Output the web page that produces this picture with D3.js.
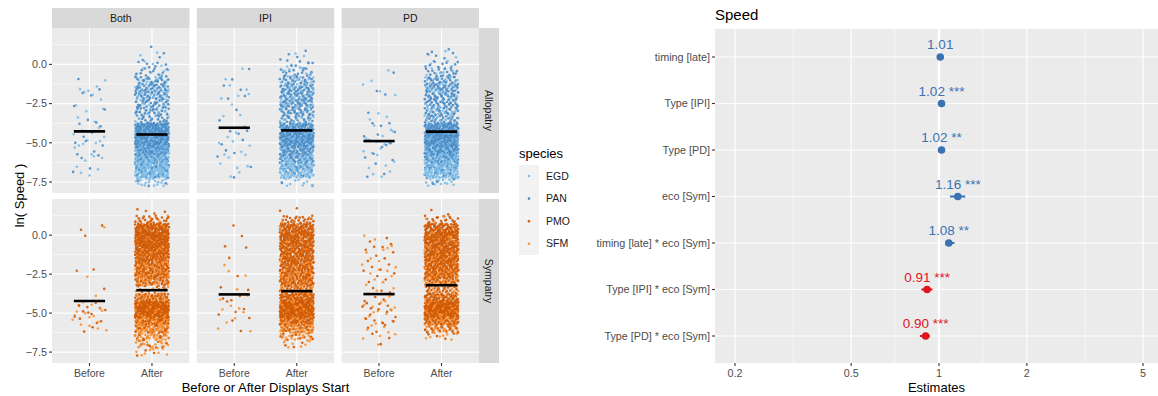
<!DOCTYPE html>
<html><head><meta charset="utf-8">
<script src="https://cdn.jsdelivr.net/npm/d3@7"></script>
<style>
body{margin:0;background:#fff;}
text{font-family:"Liberation Sans",Arial,Helvetica,sans-serif;}
</style>
</head><body>
<svg id="chart" width="1158" height="396"></svg>
<script>
// ---------- jitter plot data: ln(speed) counts per 0.5-wide band ----------
const bins = [-7.5,-7,-6.5,-6,-5.5,-5,-4.5,-4,-3.5,-3,-2.5,-2,-1.5,-1,-0.5,0,0.5,1,1.5];
const types = ["Both","IPI","PD"];
const ecos = ["Allopatry","Sympatry"];
const timings = ["Before","After"];
const speciesNames = ["EGD","PAN","PMO","SFM"];
const speciesColors = ["#7dbde8","#4a8bc5","#cf5a06","#fb9235"];

// Allopatry (EGD / PAN)
const alloBothBeforeEGD = [0,2,2,3,2,5,3,2,2,2,1,3,3,1,0,0,0,0,0];
const alloBothBeforePAN = [0,1,1,2,2,3,2,2,2,1,1,2,1,1,0,0,0,0,0];
const alloBothAfterEGD  = [20,70,75,60,45,35,30,30,14,17,17,20,20,14,6,3,2,0,0];
const alloBothAfterPAN  = [3,15,25,40,70,100,110,90,20,24,28,32,32,22,12,6,3,1,0];
const alloIPIBeforeEGD  = [0,2,3,2,2,3,2,1,1,1,1,3,2,1,1,0,0,0,0];
const alloIPIBeforePAN  = [0,1,1,1,2,2,2,1,1,1,0,2,2,1,1,0,0,0,0];
const alloIPIAfterEGD   = [10,50,55,45,35,30,25,20,14,16,18,21,21,14,7,4,2,0,0];
const alloIPIAfterPAN   = [2,12,20,35,55,80,90,70,24,28,32,35,32,25,14,7,3,1,0];
const alloPDBeforeEGD   = [0,3,2,2,3,4,3,2,2,1,0,1,2,1,1,0,0,0,0];
const alloPDBeforePAN   = [0,2,1,2,2,3,3,2,1,1,0,1,1,0,1,0,0,0,0];
const alloPDAfterEGD    = [15,60,60,50,35,30,25,22,16,18,20,21,21,16,9,5,2,1,0];
const alloPDAfterPAN    = [3,15,25,40,65,90,100,80,25,28,32,35,32,27,16,9,4,2,0];

// Sympatry (PMO / SFM)
const sympBothBeforePMO = [0,0,0,2,3,5,4,0,1,0,1,1,0,0,0,1,2,0,0];
const sympBothBeforeSFM = [0,0,0,3,4,5,4,1,0,0,1,0,0,0,0,0,1,0,0];
const sympBothAfterPMO  = [3,8,15,30,70,130,130,50,10,40,60,70,80,90,100,110,90,25,4];
const sympBothAfterSFM  = [8,18,35,60,60,40,30,25,5,25,35,35,25,20,20,15,10,3,0];
const sympIPIBeforePMO  = [0,0,0,1,2,2,2,3,2,0,1,0,1,1,1,1,1,0,0];
const sympIPIBeforeSFM  = [0,0,0,2,2,2,2,2,1,0,2,1,0,0,0,0,0,0,0];
const sympIPIAfterPMO   = [0,3,10,25,60,120,130,80,30,60,60,70,75,80,85,85,70,25,2];
const sympIPIAfterSFM   = [0,6,20,40,45,35,30,25,25,30,35,25,20,18,15,12,8,3,0];
const sympPDBeforePMO   = [0,1,2,3,4,5,5,4,3,2,3,3,3,3,3,1,0,0,0];
const sympPDBeforeSFM   = [0,1,3,4,4,5,4,3,2,3,3,3,2,3,2,1,0,0,0];
const sympPDAfterPMO    = [0,0,4,20,60,120,130,60,25,45,70,75,80,85,90,90,70,20,2];
const sympPDAfterSFM    = [0,0,8,30,40,35,30,20,15,25,35,30,25,20,18,15,8,3,0];

// group means (crossbars), by type Both / IPI / PD
const meanAlloBefore = [-4.27,-4.04,-4.89];
const meanAlloAfter  = [-4.47,-4.21,-4.29];
const meanSympBefore = [-4.22,-3.80,-3.78];
const meanSympAfter  = [-3.53,-3.59,-3.21];

const yTicks = [0,-2.5,-5,-7.5];

// ---------- forest plot data ----------
const terms = ["timing [late]","Type [IPI]","Type [PD]","eco [Sym]","timing [late] * eco [Sym]","Type [IPI] * eco [Sym]","Type [PD] * eco [Sym]"];
const estimates = [1.01,1.02,1.02,1.16,1.08,0.91,0.90];
const ciLow  = [1.00,1.01,1.01,1.09,1.05,0.87,0.86];
const ciHigh = [1.02,1.03,1.03,1.23,1.13,0.95,0.93];
const stars  = ["","***","**","***","**","***","***"];
const xTicksForest = [0.2,0.5,1,2,5];

// ======================================================================
const svg = d3.select("#chart");
const grey30 = "#4d4d4d", panelBg = "#ebebeb", stripBg = "#d9d9d9";

// ---------- left: faceted jitter plot ----------
const facetLeft = 52, facetRight = 479, facetGap = 7.3;
const panelW = (facetRight - facetLeft - 2*facetGap) / 3;
const rows = [{top:28,bottom:193},{top:199,bottom:363}];
const yDomain = [-8.2, 2.32];

const countTable = {
  Allopatry:{Both:{Before:[["EGD",alloBothBeforeEGD],["PAN",alloBothBeforePAN]],After:[["EGD",alloBothAfterEGD],["PAN",alloBothAfterPAN]]},
             IPI:{Before:[["EGD",alloIPIBeforeEGD],["PAN",alloIPIBeforePAN]],After:[["EGD",alloIPIAfterEGD],["PAN",alloIPIAfterPAN]]},
             PD:{Before:[["EGD",alloPDBeforeEGD],["PAN",alloPDBeforePAN]],After:[["EGD",alloPDAfterEGD],["PAN",alloPDAfterPAN]]}},
  Sympatry:{Both:{Before:[["PMO",sympBothBeforePMO],["SFM",sympBothBeforeSFM]],After:[["PMO",sympBothAfterPMO],["SFM",sympBothAfterSFM]]},
            IPI:{Before:[["PMO",sympIPIBeforePMO],["SFM",sympIPIBeforeSFM]],After:[["PMO",sympIPIAfterPMO],["SFM",sympIPIAfterSFM]]},
            PD:{Before:[["PMO",sympPDBeforePMO],["SFM",sympPDBeforeSFM]],After:[["PMO",sympPDAfterPMO],["SFM",sympPDAfterSFM]]}}
};
const meanTable = {Allopatry:{Before:meanAlloBefore,After:meanAlloAfter},
                   Sympatry:{Before:meanSympBefore,After:meanSympAfter}};
const colorOf = d3.scaleOrdinal().domain(speciesNames).range(speciesColors);

// low-discrepancy sequence used to spread points inside each band (jitter)
function halton(i, b){ let f = 1, r = 0; while(i > 0){ f /= b; r += f*(i % b); i = Math.floor(i/b); } return r; }
function cloud(groups, seed){
  const pts = []; let k = seed;
  groups.forEach(([sp, counts]) => {
    counts.forEach((n, bi) => {
      for(let j = 0; j < n; j++){
        k++;
        pts.push({sp, v: bins[bi] + (halton(k,3) - 0.5)*0.5, jx: (halton(k,2) - 0.5)*2*0.27, ord: halton(k,7)});
      }
    });
  });
  pts.sort((a,b) => a.ord - b.ord);
  return pts;
}

ecos.forEach((eco, ri) => {
  const row = rows[ri];
  const y = d3.scaleLinear().domain(yDomain).range([row.bottom, row.top]);
  types.forEach((type, ci) => {
    const x0 = facetLeft + ci*(panelW + facetGap);
    const x = d3.scaleLinear().domain([0.4, 2.6]).range([x0, x0 + panelW]);
    const g = svg.append("g");
    g.append("rect").attr("x", x0).attr("y", row.top).attr("width", panelW).attr("height", row.bottom - row.top).attr("fill", panelBg);
    // minor grid
    const minors = [1.25,-1.25,-3.75,-6.25];
    g.selectAll(".mn").data(minors).join("line")
      .attr("x1", x0).attr("x2", x0 + panelW).attr("y1", d => y(d)).attr("y2", d => y(d))
      .attr("stroke", "#fff").attr("stroke-width", 0.55);
    g.selectAll(".mj").data(yTicks).join("line")
      .attr("x1", x0).attr("x2", x0 + panelW).attr("y1", d => y(d)).attr("y2", d => y(d))
      .attr("stroke", "#fff").attr("stroke-width", 1.1);
    g.selectAll(".vx").data([1,2]).join("line")
      .attr("x1", d => x(d)).attr("x2", d => x(d)).attr("y1", row.top).attr("y2", row.bottom)
      .attr("stroke", "#fff").attr("stroke-width", 1.1);
    // points
    timings.forEach((tm, ti) => {
      const pts = cloud(countTable[eco][type][tm], ri*1000 + ci*100 + ti*7);
      g.append("g").selectAll("circle").data(pts).join("circle")
        .attr("cx", d => x(ti + 1 + d.jx)).attr("cy", d => y(d.v)).attr("r", 1.3)
        .attr("fill", d => colorOf(d.sp)).attr("fill-opacity", 0.9);
    });
    // mean crossbars
    timings.forEach((tm, ti) => {
      const m = meanTable[eco][tm][ci];
      g.append("line").attr("x1", x(ti + 1 - 0.25)).attr("x2", x(ti + 1 + 0.25))
        .attr("y1", y(m)).attr("y2", y(m)).attr("stroke", "#000").attr("stroke-width", 2.6);
    });
    // strips on top
    if(ri === 0){
      svg.append("rect").attr("x", x0).attr("y", 8).attr("width", panelW).attr("height", 20).attr("fill", stripBg);
      svg.append("text").attr("x", x0 + panelW/2).attr("y", 18).attr("dy", "0.35em").attr("text-anchor", "middle")
        .attr("font-size", 10.5).attr("fill", "#1a1a1a").text(type);
    }
    // x axis on the bottom row
    if(ri === 1){
      const ax = svg.append("g").attr("transform", `translate(0,${row.bottom})`);
      ax.selectAll("line").data(timings).join("line")
        .attr("x1", (d,i) => x(i+1)).attr("x2", (d,i) => x(i+1)).attr("y1", 0).attr("y2", 3)
        .attr("stroke", "#333").attr("stroke-width", 1.1);
      ax.selectAll("text").data(timings).join("text")
        .attr("x", (d,i) => x(i+1)).attr("y", 14).attr("text-anchor", "middle")
        .attr("font-size", 10.5).attr("fill", grey30).text(d => d);
    }
  });
  // right strip
  svg.append("rect").attr("x", facetRight).attr("y", row.top).attr("width", 20).attr("height", row.bottom - row.top).attr("fill", stripBg);
  svg.append("text").attr("transform", `translate(${facetRight + 10},${(row.top + row.bottom)/2}) rotate(90)`)
    .attr("text-anchor", "middle").attr("dy", "0.35em").attr("font-size", 10.5).attr("fill", "#1a1a1a").text(eco);
  // y axis
  const ay = svg.append("g");
  ay.selectAll("line").data(yTicks).join("line")
    .attr("x1", facetLeft - 3).attr("x2", facetLeft).attr("y1", d => y(d)).attr("y2", d => y(d))
    .attr("stroke", "#333").attr("stroke-width", 1.1);
  ay.selectAll("text").data(yTicks).join("text")
    .attr("x", facetLeft - 5).attr("y", d => y(d)).attr("dy", "0.35em").attr("text-anchor", "end")
    .attr("font-size", 10.8).attr("fill", grey30).text(d => d3.format(".1f")(d));
});

// axis titles
svg.append("text").attr("x", (facetLeft + facetRight)/2).attr("y", 392).attr("text-anchor", "middle")
  .attr("font-size", 13).attr("fill", "#000").text("Before or After Displays Start");
svg.append("text").attr("transform", `translate(19,${(rows[0].top + rows[1].bottom)/2}) rotate(-90)`)
  .attr("text-anchor", "middle").attr("dy", "0.35em").attr("font-size", 13).attr("fill", "#000").text("ln( Speed )");

// legend
const lg = svg.append("g").attr("transform", "translate(519,0)");
lg.append("text").attr("x", 0).attr("y", 153).attr("dy", "0.35em").attr("font-size", 13).text("species");
lg.append("rect").attr("x", 0).attr("y", 165).attr("width", 20).attr("height", 90).attr("fill", "#f2f2f2");
speciesNames.forEach((s, i) => {
  const cy = 176 + i*22.6;
  lg.append("circle").attr("cx", 10).attr("cy", cy).attr("r", 1.3).attr("fill", colorOf(s));
  lg.append("text").attr("x", 27).attr("y", cy).attr("dy", "0.35em").attr("font-size", 10.5).attr("fill", "#1a1a1a").text(s);
});

// ---------- right: forest plot of estimates ----------
const fpLeft = 715, fpRight = 1158, fpTop = 29, fpBottom = 363;
const fx = d3.scaleLog().domain([0.2, 5]).range([735, 1143]);
const fy = d3.scalePoint().domain(terms).range([57, 336]);
const fg = svg.append("g");
fg.append("rect").attr("x", fpLeft).attr("y", fpTop).attr("width", fpRight - fpLeft).attr("height", fpBottom - fpTop).attr("fill", panelBg);
const minorX = d3.pairs(xTicksForest).map(([a,b]) => Math.sqrt(a*b));
fg.selectAll(".mnx").data(minorX).join("line")
  .attr("x1", d => fx(d)).attr("x2", d => fx(d)).attr("y1", fpTop).attr("y2", fpBottom)
  .attr("stroke", "#fff").attr("stroke-width", 0.55);
fg.selectAll(".mjx").data(xTicksForest).join("line")
  .attr("x1", d => fx(d)).attr("x2", d => fx(d)).attr("y1", fpTop).attr("y2", fpBottom)
  .attr("stroke", "#fff").attr("stroke-width", 1.1);
fg.selectAll(".mjy").data(terms).join("line")
  .attr("x1", fpLeft).attr("x2", fpRight).attr("y1", d => fy(d)).attr("y2", d => fy(d))
  .attr("stroke", "#fff").attr("stroke-width", 1.1);
// reference line at 1
fg.append("line").attr("x1", fx(1)).attr("x2", fx(1)).attr("y1", fpTop).attr("y2", fpBottom)
  .attr("stroke", "#fff").attr("stroke-width", 2.4);

const fcol = v => v >= 1 ? "#3a72b2" : "#e0141e";
terms.forEach((t, i) => {
  const c = fcol(estimates[i]);
  fg.append("line").attr("x1", fx(ciLow[i])).attr("x2", fx(ciHigh[i])).attr("y1", fy(t)).attr("y2", fy(t))
    .attr("stroke", c).attr("stroke-width", 2);
  fg.append("circle").attr("cx", fx(estimates[i])).attr("cy", fy(t)).attr("r", 3.8).attr("fill", c);
  fg.append("text").attr("x", fx(estimates[i])).attr("y", fy(t) - 8).attr("text-anchor", "middle")
    .attr("font-size", 13.5).attr("fill", c)
    .text(estimates[i].toFixed(2) + (stars[i] ? " " + stars[i] : ""));
});
// y axis labels
fg.selectAll(".yt").data(terms).join("line")
  .attr("x1", fpLeft - 3).attr("x2", fpLeft).attr("y1", d => fy(d)).attr("y2", d => fy(d))
  .attr("stroke", "#333").attr("stroke-width", 1.1);
fg.selectAll(".yl").data(terms).join("text")
  .attr("x", fpLeft - 5).attr("y", d => fy(d)).attr("dy", "0.35em").attr("text-anchor", "end")
  .attr("font-size", 10.8).attr("fill", grey30).text(d => d);
// x axis
fg.selectAll(".xt").data(xTicksForest).join("line")
  .attr("x1", d => fx(d)).attr("x2", d => fx(d)).attr("y1", fpBottom).attr("y2", fpBottom + 3)
  .attr("stroke", "#333").attr("stroke-width", 1.1);
fg.selectAll(".xl").data(xTicksForest).join("text")
  .attr("x", d => fx(d)).attr("y", fpBottom + 14).attr("text-anchor", "middle")
  .attr("font-size", 10.8).attr("fill", grey30).text(d => d);
svg.append("text").attr("x", (fpLeft + fpRight)/2).attr("y", 392).attr("text-anchor", "middle")
  .attr("font-size", 13).attr("fill", "#000").text("Estimates");
svg.append("text").attr("x", fpLeft).attr("y", 20).attr("font-size", 15).attr("fill", "#000").text("Speed");
</script>
</body></html>
